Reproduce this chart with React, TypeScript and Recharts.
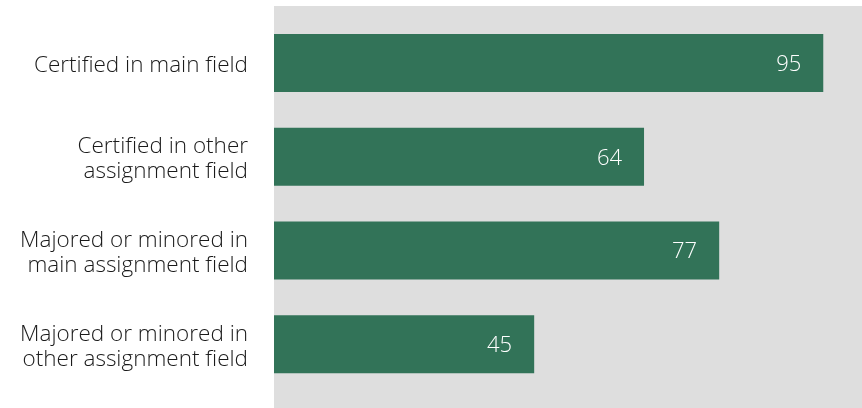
import { BarChart, Bar, XAxis, YAxis, LabelList } from "recharts"

const categories = [
  "Certified in main field",
  "Certified in other\nassignment field",
  "Majored or minored in\nmain assignment field",
  "Majored or minored in\nother assignment field",
]
const percents = [95, 64, 77, 45]

const data = categories.map((name, i) => ({ name, value: percents[i] }))

const FONT = "'Open Sans', 'Noto Sans', sans-serif"

function CategoryTick(props: any) {
  const { x, y, payload } = props
  const lines = String(payload.value).split("\n")
  const lineHeight = 25
  const startDy = -((lines.length - 1) * lineHeight) / 2
  return (
    <text
      x={x}
      y={y}
      textAnchor="end"
      fill="#1a1a1a"
      fontSize={22.5}
      fontWeight={300}
      fontFamily={FONT}
      dominantBaseline="central"
    >
      {lines.map((line, i) => (
        <tspan key={i} x={x} dy={i === 0 ? startDy : lineHeight}>
          {line}
        </tspan>
      ))}
    </text>
  )
}

export default function App() {
  return (
    <div style={{ position: "fixed", left: 0, top: 0, width: 862, height: 408 }}>
      <div
        style={{
          position: "absolute",
          left: 274,
          top: 6,
          width: 588,
          height: 402,
          background: "#dedede",
        }}
      />
      <BarChart
        width={862}
        height={408}
        data={data}
        layout="vertical"
        margin={{ top: 16, right: 0, bottom: 17, left: 0 }}
        barCategoryGap={18}
        style={{ position: "absolute", left: 0, top: 0 }}
      >
        <XAxis type="number" domain={[0, 101.7]} hide />
        <YAxis
          type="category"
          dataKey="name"
          width={274}
          axisLine={false}
          tickLine={false}
          tickSize={0}
          tickMargin={26}
          tick={<CategoryTick />}
          interval={0}
        />
        <Bar dataKey="value" fill="#327358" isAnimationActive={false}>
          <LabelList
            dataKey="value"
            position="insideRight"
            offset={22}
            fill="#ffffff"
            fontSize={22}
            fontWeight={300}
            fontFamily={FONT}
          />
        </Bar>
      </BarChart>
    </div>
  )
}
